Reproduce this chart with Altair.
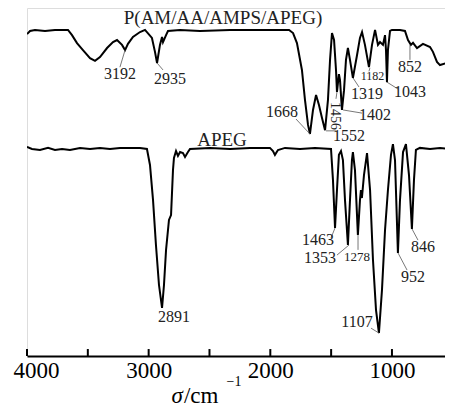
import altair as alt
import pandas as pd

# ---- P(AM/AA/AMPS/APEG) spectrum (wavenumber cm-1, transmittance a.u.)
wn_p = [4000, 3975, 3934, 3852, 3770, 3663, 3630, 3589, 3540, 3482, 3441, 3400, 3342, 3293,
        3260, 3219, 3194, 3170, 3129, 3071, 3030, 2973, 2948, 2931, 2907, 2890, 2882, 2857,
        2841, 2742, 2578, 2331, 2085, 1846, 1813, 1781, 1740, 1715, 1690, 1674, 1649, 1624,
        1600, 1575, 1550, 1526, 1509, 1493, 1476, 1460, 1452, 1436, 1427, 1411, 1394, 1378,
        1362, 1345, 1321, 1287, 1263, 1246, 1222, 1189, 1164, 1139, 1115, 1098, 1074, 1057,
        1049, 1041, 1033, 1016, 1000, 934, 893, 868, 844, 827, 794, 745, 687, 663, 630, 605,
        548, 498]
t_p = [92.5, 93.4, 93.7, 93.4, 93.7, 93.7, 92.2, 89.9, 87.9, 85.6, 84.8, 85.9, 88.5, 90.2,
       90.8, 89.4, 87.9, 89.7, 91.7, 93.1, 93.7, 91.4, 87.4, 84.2, 89.4, 91.7, 90.2, 92.2,
       93.4, 93.7, 93.4, 93.7, 93.7, 93.7, 92.8, 89.9, 82.2, 73.6, 66.4, 63.8, 70.7, 75.0,
       72.1, 68.4, 64.9, 73.6, 85.1, 92.8, 90.8, 82.2, 75.9, 81.0, 79.3, 70.7, 76.4, 85.1,
       88.5, 85.1, 79.9, 86.5, 91.4, 93.1, 89.4, 83.0, 89.4, 93.7, 89.4, 90.2, 89.4, 92.2,
       87.9, 78.7, 87.9, 93.4, 93.7, 93.7, 93.4, 90.8, 89.4, 90.0, 88.5, 89.7, 88.8, 87.4,
       84.5, 83.6, 84.2, 82.8]

# ---- APEG spectrum
wn_a = [4000, 3959, 3893, 3827, 3770, 3712, 3647, 3564, 3482, 3400, 3318, 3236, 3153, 3071,
        3014, 2989, 2964, 2940, 2915, 2890, 2874, 2857, 2833, 2816, 2800, 2792, 2775, 2759,
        2742, 2718, 2701, 2677, 2660, 2496, 2331, 2167, 2003, 1978, 1962, 1937, 1879, 1756,
        1633, 1501, 1485, 1468, 1452, 1436, 1419, 1403, 1386, 1362, 1345, 1329, 1321, 1304,
        1280, 1263, 1255, 1247, 1230, 1205, 1180, 1156, 1131, 1107, 1082, 1057, 1033, 1008,
        992, 975, 951, 934, 909, 885, 860, 836, 819, 803, 770, 687, 605, 539, 515, 498]
t_a = [60.1, 59.5, 59.2, 59.8, 59.2, 59.5, 59.2, 59.8, 59.5, 59.8, 59.5, 59.8, 59.8, 59.8,
       59.5, 54.9, 44.8, 31.9, 20.4, 13.8, 20.4, 30.5, 39.1, 40.5, 53.4, 56.9, 58.9, 57.5,
       58.6, 58.3, 57.2, 58.6, 59.5, 59.8, 59.5, 59.8, 59.8, 58.9, 57.8, 59.2, 59.8, 59.5,
       59.8, 59.5, 50.6, 36.8, 47.7, 57.8, 58.9, 56.3, 44.8, 31.9, 44.8, 56.3, 58.6, 53.4,
       34.8, 44.8, 47.7, 45.4, 52.0, 58.3, 47.7, 27.6, 13.2, 6.6, 19.0, 36.2, 47.7, 57.8,
       60.9, 56.3, 29.6, 44.8, 58.6, 60.9, 52.0, 36.5, 50.6, 59.2, 59.8, 59.5, 59.8, 59.5,
       56.9, 54.9]

# ---- peak labels: text, label position (wn, T), font size, angle
lab_text = ["3192", "2935", "1668", "1552", "1456", "1402", "1319", "1182", "1043", "852",
            "2891", "1463", "1353", "1278", "952", "846", "1107"]
lab_wn = [3236, 2825, 1904, 1353, 1468, 1139, 1205, 1160, 852, 852,
          2792, 1608, 1592, 1287, 827, 745, 1287]
lab_t = [81.0, 79.6, 70.1, 63.2, 69.0, 69.3, 75.2, 80.4, 75.9, 83.0,
         11.2, 33.3, 28.2, 28.4, 22.7, 31.3, 9.8]
lab_size = [16, 16, 16, 16, 14, 16, 16, 12, 16, 16, 16, 16, 16, 13, 16, 16, 16]
lab_angle = [0, 0, 0, 0, 90, 0, 0, 0, 0, 0, 0, 0, 0, 0, 0, 0, 0]

# ---- leader lines (peak point -> label)
ld_wn1 = [3194, 2931, 1674, 1542, 1452, 1402, 1320, 1181, 1041, 852, 1468, 1353, 1279, 950, 835, 1107]
ld_t1 = [87.9, 84.2, 63.8, 64.7, 75.9, 70.7, 79.9, 82.8, 78.7, 89.4, 36.8, 31.9, 34.8, 29.6, 36.5, 6.6]
ld_wn2 = [3236, 2882, 1789, 1460, 1460, 1246, 1271, 1189, 950, 852, 1501, 1452, 1279, 876, 786, 1172]
ld_t2 = [83.0, 82.2, 68.1, 64.7, 73.9, 69.8, 77.3, 81.8, 76.7, 85.1, 33.9, 29.0, 30.5, 24.7, 33.3, 8.0]

# ---- series names
name_text = ["P(AM/AA/AMPS/APEG)", "APEG"]
name_wn = [2389, 2397]
name_t = [97.1, 62.1]

# ---- axis ticks
tick_vals = [4000, 3500, 3000, 2500, 2000, 1500, 1000]
label_vals = [4000, 3000, 2000, 1000]

FONT = "Liberation Serif"
xdom = [4000, 564]

xs = alt.Scale(domain=xdom, zero=False, nice=False)
ys = alt.Scale(domain=[0, 100], zero=False, nice=False)

df_p = pd.DataFrame({"wn": wn_p, "t": t_p})
df_a = pd.DataFrame({"wn": wn_a, "t": t_a})
df_lab = pd.DataFrame({"txt": lab_text, "wn": lab_wn, "t": lab_t, "size": lab_size, "angle": lab_angle})
df_ld = pd.DataFrame({"wn": ld_wn1, "t": ld_t1, "wn2": ld_wn2, "t2": ld_t2})
df_name = pd.DataFrame({"txt": name_text, "wn": name_wn, "t": name_t})
df_tick = pd.DataFrame({"wn": tick_vals, "t0": [0] * len(tick_vals), "t1": [2.0] * len(tick_vals)})

xaxis = alt.Axis(values=label_vals, ticks=False, grid=False, domainColor="black", domainWidth=2,
                 labelFont=FONT, labelFontSize=23, labelColor="black", labelPadding=3,
                 labelFlush=True, labelFlushOffset=14, title=None, format="d")

line_p = alt.Chart(df_p).mark_line(color="black", strokeWidth=2, clip=True).encode(
    x=alt.X("wn:Q", scale=xs, axis=xaxis),
    y=alt.Y("t:Q", scale=ys, axis=None),
    order="wn:O",
)
line_a = alt.Chart(df_a).mark_line(color="black", strokeWidth=2, clip=True).encode(
    x=alt.X("wn:Q", scale=xs),
    y=alt.Y("t:Q", scale=ys),
)
leaders = alt.Chart(df_ld).mark_rule(color="#555555", strokeWidth=0.8).encode(
    x=alt.X("wn:Q", scale=xs), y=alt.Y("t:Q", scale=ys), x2="wn2:Q", y2="t2:Q"
)
labels = alt.Chart(df_lab).mark_text(font=FONT, color="#222222", baseline="middle", align="center").encode(
    x=alt.X("wn:Q", scale=xs), y=alt.Y("t:Q", scale=ys), text="txt:N",
    size=alt.Size("size:Q", scale=None, legend=None),
    angle=alt.Angle("angle:Q", scale=None),
)
names = alt.Chart(df_name).mark_text(font=FONT, fontSize=19, color="#222222", baseline="middle").encode(
    x=alt.X("wn:Q", scale=xs), y=alt.Y("t:Q", scale=ys), text="txt:N"
)
ticks = alt.Chart(df_tick).mark_rule(color="black", strokeWidth=2).encode(
    x=alt.X("wn:Q", scale=xs), y=alt.Y("t0:Q", scale=ys), y2="t1:Q"
)

# axis title: σ/cm^-1
df_t1 = pd.DataFrame({"wn": [2718], "t": [-13.5], "txt": ["σ"]})
df_t2 = pd.DataFrame({"wn": [2718], "t": [-13.5], "txt": ["/cm"]})
df_t3 = pd.DataFrame({"wn": [2360], "t": [-8.6], "txt": ["−1"]})
tt1 = alt.Chart(df_t1).mark_text(font=FONT, fontSize=23, fontStyle="italic", align="right",
                                 baseline="alphabetic", color="black").encode(
    x=alt.X("wn:Q", scale=xs), y=alt.Y("t:Q", scale=ys), text="txt:N")
tt2 = alt.Chart(df_t2).mark_text(font=FONT, fontSize=23, align="left", dx=1,
                                 baseline="alphabetic", color="black").encode(
    x=alt.X("wn:Q", scale=xs), y=alt.Y("t:Q", scale=ys), text="txt:N")
tt3 = alt.Chart(df_t3).mark_text(font=FONT, fontSize=14, align="left",
                                 baseline="alphabetic", color="black").encode(
    x=alt.X("wn:Q", scale=xs), y=alt.Y("t:Q", scale=ys), text="txt:N")

chart = alt.layer(line_p, line_a, ticks, leaders, labels, names, tt1, tt2, tt3).properties(
    width=418, height=348, padding={"left": 5, "top": 0, "right": 0, "bottom": 0}
).configure_view(stroke=None).configure(background="white")

chart.save("out.html", embed_options={"renderer": "svg", "actions": False})
